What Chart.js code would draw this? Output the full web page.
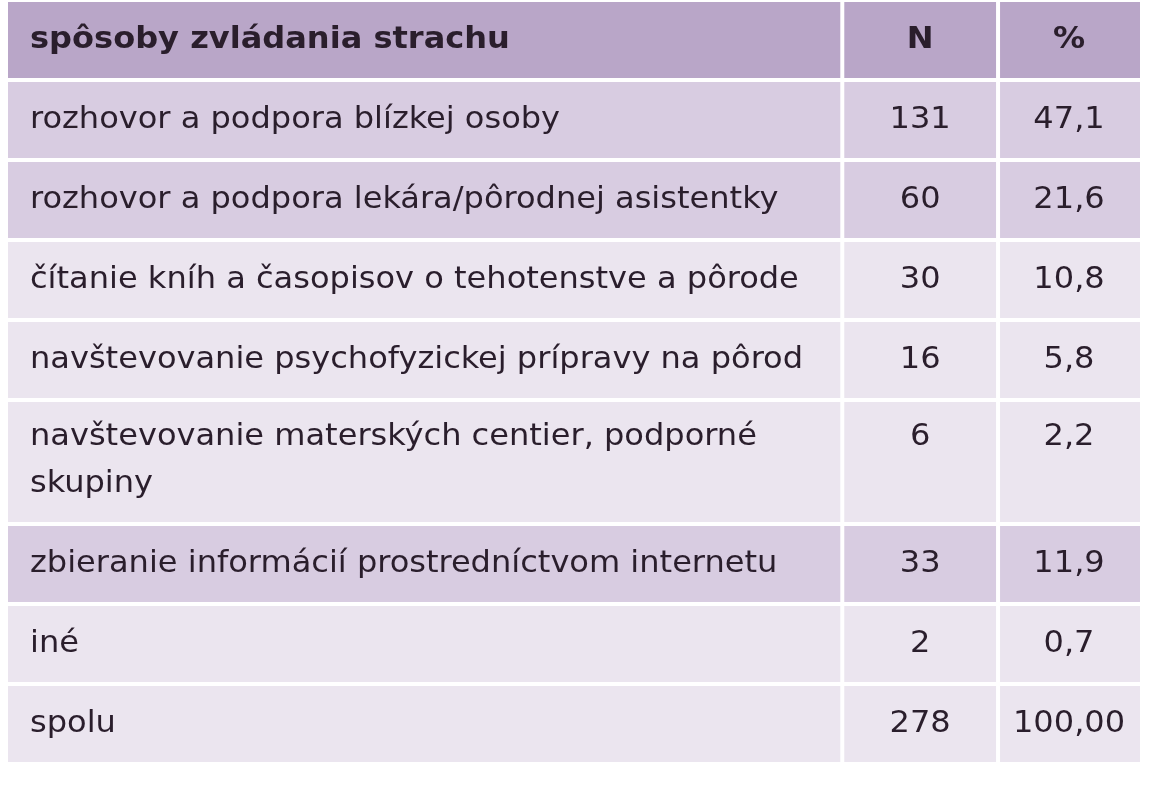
<!DOCTYPE html>
<html><head><meta charset="utf-8">
<script src="https://cdn.jsdelivr.net/npm/chart.js@4"></script>
<style>html,body{margin:0;padding:0;background:#fff}#w{width:1155px;height:800px}</style>
</head><body><div id="w"><canvas id="c"></canvas></div>
<script>
const headers = ["spôsoby zvládania strachu", "N", "%"];
const categories = [
  ["rozhovor a podpora blízkej osoby"],
  ["rozhovor a podpora lekára/pôrodnej asistentky"],
  ["čítanie kníh a časopisov o tehotenstve a pôrode"],
  ["navštevovanie psychofyzickej prípravy na pôrod"],
  ["navštevovanie materských centier, podporné", "skupiny"],
  ["zbieranie informácií prostredníctvom internetu"],
  ["iné"],
  ["spolu"]
];
const countN = ["131", "60", "30", "16", "6", "33", "2", "278"];
const percent = ["47,1", "21,6", "10,8", "5,8", "2,2", "11,9", "0,7", "100,00"];
const highlighted = [true, true, false, false, false, true, false, false];

const colEdges = [0, 0.737, 0.8746, 1];
const HEAD = '#b9a6c8', HI = '#d8cce1', LO = '#ebe5ef', TXT = '#2a1e2c';
// row units
const rows = [{lines:1, head:true}].concat(categories.map((c,i)=>({lines:c.length, i})));
let acc = 0;
rows.forEach(r => { r.top = acc; r.h = 1 + 0.55*(r.lines-1); acc += r.h; r.bot = acc; });
const total = acc;

const tablePlugin = {
  id: 'table',
  beforeDatasetsDraw(chart) {
    const {ctx} = chart, xs = chart.scales.x, ys = chart.scales.y;
    const gap = 2;
    ctx.save();
    ctx.font = '30px "DejaVu Sans Condensed", "DejaVu Sans"';
    const sx = 773 / ctx.measureText("navštevovanie psychofyzickej prípravy na pôrod").width;
    rows.forEach(r => {
      const yt = ys.getPixelForValue(r.top) + gap, yb = ys.getPixelForValue(r.bot) - gap;
      ctx.fillStyle = r.head ? HEAD : (highlighted[r.i] ? HI : LO);
      for (let c = 0; c < 3; c++) {
        const xl = xs.getPixelForValue(colEdges[c]) + (c ? gap : 0);
        const xr = xs.getPixelForValue(colEdges[c+1]) - (c < 2 ? gap : 0);
        ctx.fillRect(xl, yt, xr - xl, yb - yt);
      }
      const texts = r.head ? [[headers[0]], headers[1], headers[2]] : [categories[r.i], countN[r.i], percent[r.i]];
      ctx.fillStyle = TXT;
      ctx.textBaseline = 'middle';
      ctx.font = (r.head ? '600 ' : '') + '30px "DejaVu Sans Condensed", "DejaVu Sans"';
      const firstY = r.lines > 1 ? yt + 35 : (yt + yb) / 2;
      texts[0].forEach((t, k) => {
        ctx.save();
        ctx.translate(xs.getPixelForValue(colEdges[0]) + 22, firstY + k*47);
        ctx.scale(sx, 1);
        ctx.textAlign = 'left';
        ctx.fillText(t, 0, 0);
        ctx.restore();
      });
      for (let c = 1; c < 3; c++) {
        const cx = (xs.getPixelForValue(colEdges[c]) + xs.getPixelForValue(colEdges[c+1])) / 2;
        ctx.save();
        ctx.translate(cx, firstY);
        ctx.scale(sx, 1);
        ctx.textAlign = 'center';
        ctx.fillText(texts[c], 0, 0);
        ctx.restore();
      }
    });
    ctx.restore();
  }
};

new Chart(document.getElementById('c'), {
  type: 'scatter',
  data: { datasets: [{ data: [], pointRadius: 0 }] },
  options: {
    responsive: true, maintainAspectRatio: false, animation: false,
    layout: { padding: { left: 8, right: 15, top: 0, bottom: 36 } },
    plugins: { legend: { display: false }, tooltip: { enabled: false } },
    scales: {
      x: { type: 'linear', min: 0, max: 1, display: false },
      y: { type: 'linear', min: 0, max: total, reverse: true, display: false }
    }
  },
  plugins: [tablePlugin]
});
</script></body></html>
